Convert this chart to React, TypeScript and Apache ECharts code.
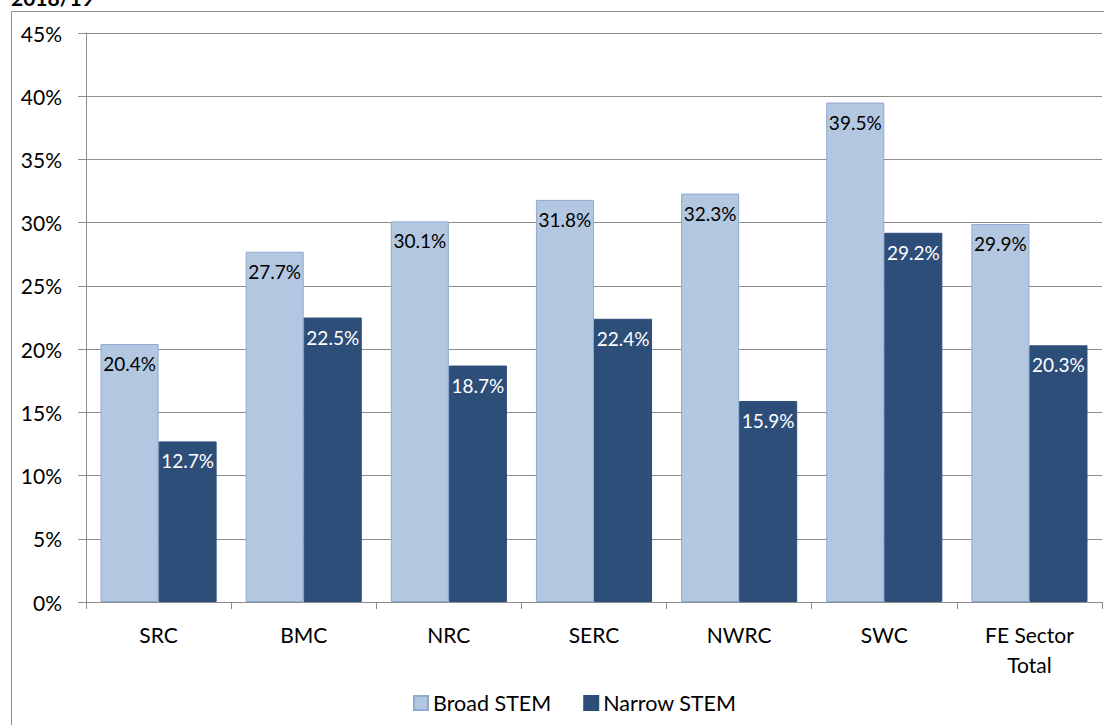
import React, { useEffect, useRef } from "react";
import * as echarts from "echarts";

const categories = ["SRC", "BMC", "NRC", "SERC", "NWRC", "SWC", "FE Sector\nTotal"];
const broadStem = [20.4, 27.7, 30.1, 31.8, 32.3, 39.5, 29.9];
const narrowStem = [12.7, 22.5, 18.7, 22.4, 15.9, 29.2, 20.3];
const seriesNames = ["Broad STEM", "Narrow STEM"];
const titleText = "2018/19";

const FONT = "Lato, 'Open Sans', sans-serif";

export default function App() {
  const ref = useRef<HTMLDivElement>(null);
  useEffect(() => {
    if (!ref.current) return;
    const chart = echarts.init(ref.current, undefined, { renderer: "svg" });
    const labelBase = {
      show: true,
      position: "insideTop" as const,
      distance: 10,
      fontSize: 19,
      fontFamily: FONT,
      formatter: (p: any) => p.value.toFixed(1) + "%",
    };
    chart.setOption({
      animation: false,
      backgroundColor: "#fff",
      textStyle: { fontFamily: FONT },
      graphic: [
        {
          type: "rect",
          shape: { x: 11.5, y: 11.5, width: 1200, height: 800 },
          style: { fill: "none", stroke: "#8c8c8c", lineWidth: 1 },
          silent: true,
        },
        {
          type: "text",
          x: 11,
          y: -3,
          style: {
            text: titleText,
            fontSize: 21,
            fontWeight: "bold",
            fontFamily: FONT,
            fill: "#000",
            verticalAlign: "middle",
          },
        },
      ],
      legend: {
        bottom: 6,
        left: 408,
        itemWidth: 14,
        itemHeight: 14,
        itemGap: 32,
        icon: "rect",
        textStyle: { fontSize: 21.5, color: "#000", fontFamily: FONT },
        data: seriesNames,
      },
      grid: { left: 86, right: 2, top: 33, bottom: 123, containLabel: false },
      xAxis: {
        type: "category",
        data: categories,
        axisLine: { show: true, lineStyle: { color: "#8c8c8c", width: 1 } },
        axisTick: { show: true, length: 7, alignWithLabel: false, lineStyle: { color: "#8c8c8c" } },
        axisLabel: {
          interval: 0,
          margin: 17,
          fontSize: 21,
          color: "#000",
          lineHeight: 30,
          fontFamily: FONT,
        },
      },
      yAxis: {
        type: "value",
        min: 0,
        max: 45,
        interval: 5,
        axisLine: { show: true, lineStyle: { color: "#8c8c8c", width: 1 } },
        axisTick: { show: true, length: 8, lineStyle: { color: "#8c8c8c" } },
        splitLine: { show: true, lineStyle: { color: "#8c8c8c", width: 1 } },
        axisLabel: {
          formatter: "{value}%",
          margin: 24,
          fontSize: 21,
          color: "#000",
          fontFamily: FONT,
        },
      },
      series: [
        {
          name: seriesNames[0],
          type: "bar",
          data: broadStem,
          barGap: "0%",
          barCategoryGap: "20%",
          itemStyle: { color: "#b3c7e1", borderColor: "#8eaad2", borderWidth: 1 },
          label: { ...labelBase, color: "#000" },
        },
        {
          name: seriesNames[1],
          type: "bar",
          data: narrowStem,
          barGap: "0%",
          barCategoryGap: "20%",
          itemStyle: { color: "#2e4e7a", borderColor: "#2e4e7a", borderWidth: 1 },
          label: { ...labelBase, color: "#fff" },
        },
      ],
    });
    return () => chart.dispose();
  }, []);
  return (
    <div
      ref={ref}
      style={{ position: "fixed", left: 0, top: 0, width: 1104, height: 725 }}
    />
  );
}
